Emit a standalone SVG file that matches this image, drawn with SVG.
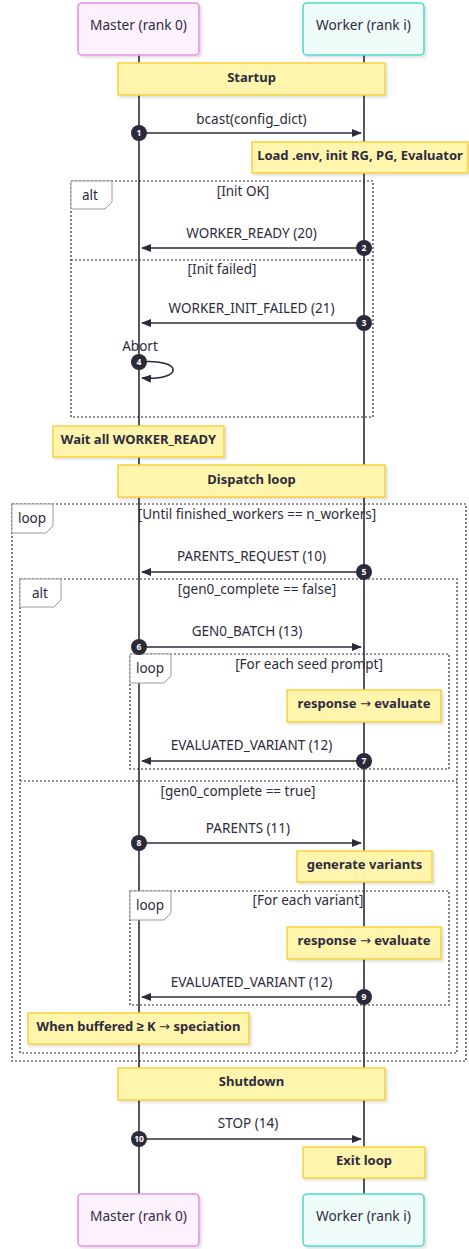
<svg xmlns="http://www.w3.org/2000/svg" width="469" height="1249" viewBox="0 0 469 1249">
<style>
text{font-family:"Noto Sans","Liberation Sans",sans-serif;fill:#2d2b3d}
.msg{font-size:13.5px;text-anchor:middle}
.note{font-size:13px;font-weight:bold;text-anchor:middle}
.ar{font-family:"DejaVu Sans",sans-serif;font-weight:normal}
.actor{font-size:13.7px;text-anchor:middle}
.lbl{font-size:13.5px;text-anchor:middle}
.tab{font-size:13.5px;text-anchor:middle}
.num{font-size:8.5px;fill:#fff;text-anchor:middle;font-weight:bold}
.life{stroke:#2b2a3a;stroke-width:1.6}
.frame{fill:none;stroke:#2b2a3a;stroke-width:1.2;stroke-dasharray:2 2}
.tabshape{fill:#fff;stroke:#9a9a9a;stroke-width:1}
.notebox{fill:#fff5ad;stroke:#f9d13e;stroke-width:1.5}
.mline{stroke:#2b2a3a;stroke-width:1.6;fill:none}
.dot{fill:#2b2a3a}
.m{fill:#fdf1fd;stroke:#ec8fec;stroke-width:1.6}
.w{fill:#effcf9;stroke:#52dcc9;stroke-width:1.6}
</style>
<defs>
<filter id="sh" x="-10%" y="-10%" width="130%" height="140%">
<feDropShadow dx="2" dy="2" stdDeviation="1.2" flood-color="#000" flood-opacity="0.12"/>
</filter>
<marker id="ah" markerWidth="10" markerHeight="8" refX="9" refY="4" orient="auto" markerUnits="userSpaceOnUse">
<path d="M0,0 L10,4 L0,8 Z" fill="#2b2a3a"/>
</marker>
</defs>
<rect width="469" height="1249" fill="#fff"/>

<g id="lifelines">
<line class="life" x1="139" y1="55" x2="139" y2="1194"/>
<line class="life" x1="364" y1="55" x2="364" y2="1194"/>
</g>

<g id="actor-master-top"><rect class="m" x="78" y="3" width="121" height="52" rx="4" filter="url(#sh)"/><text class="actor" x="138.5" y="30">Master (rank 0)</text></g>
<g id="actor-worker-top"><rect class="w" x="303" y="3" width="121" height="52" rx="4" filter="url(#sh)"/><text class="actor" x="363.5" y="30">Worker (rank i)</text></g>

<g id="frames">
<rect class="frame" x="71" y="181" width="302" height="236"/>
<line class="frame" x1="71" y1="260" x2="373" y2="260"/>
<polygon class="tabshape" points="71,181 112,181 112,202 105,209 71,209"/>
<text class="tab" x="90" y="200">alt</text>
<text class="lbl" x="243" y="196">[Init OK]</text>
<text class="lbl" x="222" y="274">[Init failed]</text>

<rect class="frame" x="12" y="504" width="454" height="557"/>
<polygon class="tabshape" points="12,504 53,504 53,526 46,533 12,533"/>
<text class="tab" x="32" y="523">loop</text>
<text class="lbl" x="257" y="519">[Until finished_workers == n_workers]</text>

<rect class="frame" x="20" y="579" width="437" height="474"/>
<line class="frame" x1="20" y1="781" x2="457" y2="781"/>
<polygon class="tabshape" points="20,579 61,579 61,600 54,607 20,607"/>
<text class="tab" x="40" y="598">alt</text>
<text class="lbl" x="257" y="594">[gen0_complete == false]</text>
<text class="lbl" x="238" y="796">[gen0_complete == true]</text>

<rect class="frame" x="130" y="654" width="319" height="115"/>
<polygon class="tabshape" points="130,654 171,654 171,676 164,683 130,683"/>
<text class="tab" x="150" y="673">loop</text>
<text class="lbl" x="309" y="669">[For each seed prompt]</text>

<rect class="frame" x="130" y="891" width="319" height="114"/>
<polygon class="tabshape" points="130,891 171,891 171,913 164,920 130,920"/>
<text class="tab" x="150" y="910">loop</text>
<text class="lbl" x="308" y="905">[For each variant]</text>
</g>

<g id="notes">
<g id="note-startup"><rect class="notebox" x="118" y="63" width="267" height="32" filter="url(#sh)"/><text class="note" x="251.5" y="81.5">Startup</text></g>
<g id="note-load"><rect class="notebox" x="252" y="142" width="216" height="31" filter="url(#sh)"/><text class="note" x="360" y="159.5">Load .env, init RG, PG, Evaluator</text></g>
<g id="note-wait"><rect class="notebox" x="53" y="426" width="171" height="31" filter="url(#sh)"/><text class="note" x="138.5" y="443.5">Wait all WORKER_READY</text></g>
<g id="note-dispatch"><rect class="notebox" x="118" y="465" width="267" height="32" filter="url(#sh)"/><text class="note" x="251.5" y="483.5">Dispatch loop</text></g>
<g id="note-resp1"><rect class="notebox" x="287" y="690" width="154" height="32" filter="url(#sh)"/><text class="note" x="364" y="708">response <tspan class="ar">→</tspan> evaluate</text></g>
<g id="note-gen"><rect class="notebox" x="297" y="851" width="135" height="31" filter="url(#sh)"/><text class="note" x="364.5" y="868.5">generate variants</text></g>
<g id="note-resp2"><rect class="notebox" x="287" y="927" width="154" height="32" filter="url(#sh)"/><text class="note" x="364" y="945">response <tspan class="ar">→</tspan> evaluate</text></g>
<g id="note-spec"><rect class="notebox" x="28" y="1013" width="221" height="31" filter="url(#sh)"/><text class="note" x="138.5" y="1030.5">When buffered ≥ K <tspan class="ar">→</tspan> speciation</text></g>
<g id="note-shutdown"><rect class="notebox" x="118" y="1068" width="267" height="32" filter="url(#sh)"/><text class="note" x="251.5" y="1086">Shutdown</text></g>
<g id="note-exit"><rect class="notebox" x="303" y="1147" width="122" height="31" filter="url(#sh)"/><text class="note" x="364" y="1164.5">Exit loop</text></g>
</g>

<g id="connectors">
<line class="mline" x1="139" y1="133" x2="361" y2="133" marker-end="url(#ah)"/>
<text class="msg" x="251.5" y="124">bcast(config_dict)</text>
<line class="mline" x1="364" y1="248" x2="142" y2="248" marker-end="url(#ah)"/>
<text class="msg" x="251.5" y="238">WORKER_READY (20)</text>
<line class="mline" x1="364" y1="323" x2="142" y2="323" marker-end="url(#ah)"/>
<text class="msg" x="251.5" y="313">WORKER_INIT_FAILED (21)</text>
<path class="mline" d="M139,362 C184,358 184,381 142,378" marker-end="url(#ah)"/>
<text class="msg" x="140" y="351">Abort</text>
<line class="mline" x1="364" y1="572" x2="142" y2="572" marker-end="url(#ah)"/>
<text class="msg" x="251.5" y="561">PARENTS_REQUEST (10)</text>
<line class="mline" x1="139" y1="647" x2="361" y2="647" marker-end="url(#ah)"/>
<text class="msg" x="247" y="636">GEN0_BATCH (13)</text>
<line class="mline" x1="364" y1="761" x2="142" y2="761" marker-end="url(#ah)"/>
<text class="msg" x="251.5" y="750">EVALUATED_VARIANT (12)</text>
<line class="mline" x1="139" y1="843" x2="361" y2="843" marker-end="url(#ah)"/>
<text class="msg" x="248" y="833">PARENTS (11)</text>
<line class="mline" x1="364" y1="997" x2="142" y2="997" marker-end="url(#ah)"/>
<text class="msg" x="251.5" y="987">EVALUATED_VARIANT (12)</text>
<line class="mline" x1="139" y1="1139" x2="361" y2="1139" marker-end="url(#ah)"/>
<text class="msg" x="248" y="1128">STOP (14)</text>

<g id="seq-numbers">
<circle class="dot" cx="139" cy="133" r="8"/><text class="num" x="139" y="136">1</text>
<circle class="dot" cx="364" cy="248" r="8"/><text class="num" x="364" y="251">2</text>
<circle class="dot" cx="364" cy="323" r="8"/><text class="num" x="364" y="326">3</text>
<circle class="dot" cx="139" cy="362" r="8"/><text class="num" x="139" y="365">4</text>
<circle class="dot" cx="364" cy="572" r="8"/><text class="num" x="364" y="575">5</text>
<circle class="dot" cx="139" cy="647" r="8"/><text class="num" x="139" y="650">6</text>
<circle class="dot" cx="364" cy="761" r="8"/><text class="num" x="364" y="764">7</text>
<circle class="dot" cx="139" cy="843" r="8"/><text class="num" x="139" y="846">8</text>
<circle class="dot" cx="364" cy="997" r="8"/><text class="num" x="364" y="1000">9</text>
<circle class="dot" cx="139" cy="1139" r="8"/><text class="num" x="139" y="1142">10</text>
</g>
</g>

<g id="actor-master-bottom"><rect class="m" x="78" y="1194" width="121" height="52" rx="4" filter="url(#sh)"/><text class="actor" x="138.5" y="1221">Master (rank 0)</text></g>
<g id="actor-worker-bottom"><rect class="w" x="303" y="1194" width="121" height="52" rx="4" filter="url(#sh)"/><text class="actor" x="363.5" y="1221">Worker (rank i)</text></g>
</svg>
